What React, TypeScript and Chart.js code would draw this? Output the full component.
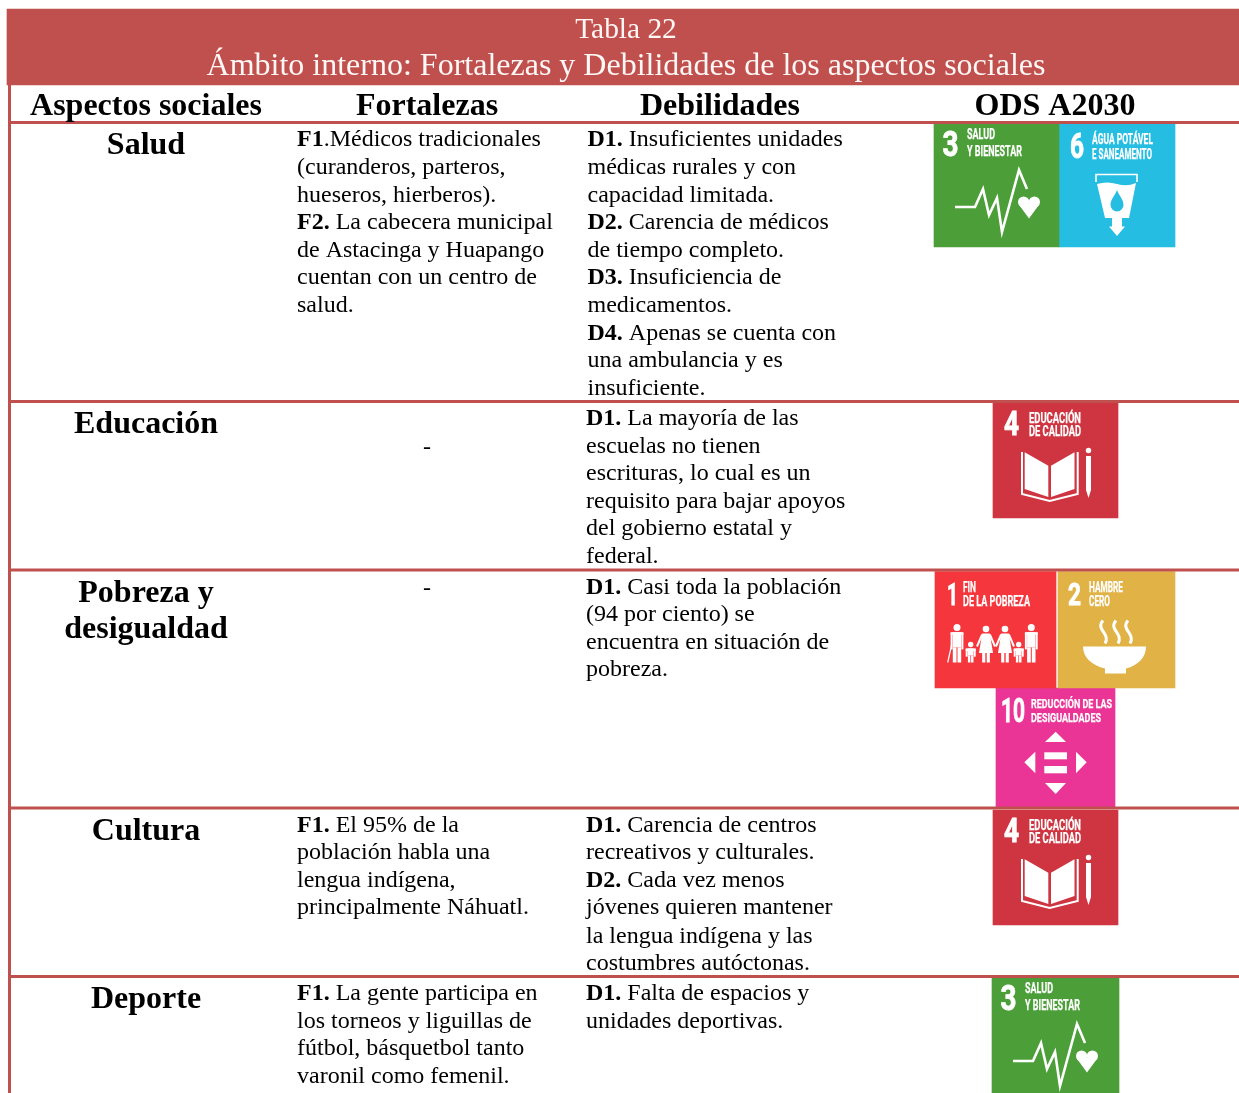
import React, { useEffect, useRef } from "react";
import { Chart, registerables } from "chart.js";

Chart.register(...registerables);

const W = 1239;
const H = 1093;
const SERIF = '"Liberation Serif", "Times New Roman", serif';
const RED = "#C0504D";

// ---------- text content ----------
const titleLines = ["Tabla 22", "Ámbito interno: Fortalezas y Debilidades de los aspectos sociales"];
const headers = ["Aspectos sociales", "Fortalezas", "Debilidades", "ODS A2030"];

const aspectSalud = ["Salud"];
const aspectEducacion = ["Educación"];
const aspectPobreza = ["Pobreza y", "desigualdad"];
const aspectCultura = ["Cultura"];
const aspectDeporte = ["Deporte"];

const fortSalud = [
  "F1.Médicos tradicionales",
  "(curanderos, parteros,",
  "hueseros, hierberos).",
  "F2. La cabecera municipal",
  "de Astacinga y Huapango",
  "cuentan con un centro de",
  "salud.",
];
const debSalud = [
  "D1. Insuficientes unidades",
  "médicas rurales y con",
  "capacidad limitada.",
  "D2. Carencia de médicos",
  "de tiempo completo.",
  "D3. Insuficiencia de",
  "medicamentos.",
  "D4. Apenas se cuenta con",
  "una ambulancia y es",
  "insuficiente.",
];
const debEducacion = [
  "D1. La mayoría de las",
  "escuelas no tienen",
  "escrituras, lo cual es un",
  "requisito para bajar apoyos",
  "del gobierno estatal y",
  "federal.",
];
const debPobreza = [
  "D1. Casi toda la población",
  "(94 por ciento) se",
  "encuentra en situación de",
  "pobreza.",
];
const fortCultura = [
  "F1. El 95% de la",
  "población habla una",
  "lengua indígena,",
  "principalmente Náhuatl.",
];
const debCultura = [
  "D1. Carencia de centros",
  "recreativos y culturales.",
  "D2. Cada vez menos",
  "jóvenes quieren mantener",
  "la lengua indígena y las",
  "costumbres autóctonas.",
];
const fortDeporte = [
  "F1. La gente participa en",
  "los torneos y liguillas de",
  "fútbol, básquetbol tanto",
  "varonil como femenil.",
];
const debDeporte = ["D1. Falta de espacios y", "unidades deportivas."];

// ---------- table layout, in scale units ----------
const ruleYs = [122.5, 401.5, 570, 808, 976.5];
const colCentres = [146, 427, 720, 1055];

const bodyBlocks: { lines: string[]; x: number; baselines: number[] }[] = [
  { lines: fortSalud, x: 297, baselines: [146, 174, 202, 229, 257, 284, 312] },
  { lines: debSalud, x: 587.5, baselines: [146, 174, 202, 229, 257, 284, 312, 340, 367, 395] },
  { lines: debEducacion, x: 586, baselines: [425, 453, 480, 508, 535, 563] },
  { lines: debPobreza, x: 586, baselines: [594, 621, 649, 676] },
  { lines: fortCultura, x: 297, baselines: [832, 859, 887, 914] },
  { lines: debCultura, x: 586, baselines: [832, 859, 887, 914, 943, 970] },
  { lines: fortDeporte, x: 297, baselines: [1000, 1028, 1055, 1083] },
  { lines: debDeporte, x: 586, baselines: [1000, 1028] },
];
const aspectBlocks: { lines: string[]; baselines: number[] }[] = [
  { lines: aspectSalud, baselines: [153.5] },
  { lines: aspectEducacion, baselines: [432.5] },
  { lines: aspectPobreza, baselines: [601.5, 637.5] },
  { lines: aspectCultura, baselines: [839.5] },
  { lines: aspectDeporte, baselines: [1007.5] },
];
const dashBaselines = [454, 595];

// ---------- ODS tiles ----------
type Tile = {
  x0: number; x1: number; y0: number; y1: number; color: string; icon: string;
  num: string; numBox: [number, number, number, number];
  labels: string[]; labelX: number; labelW: number[]; labelBase: number[]; cap: number;
};
const tile3 = { color: "#4C9F38", icon: "health", num: "3", numBox: [8.5, 16, 31.5, 25] as [number, number, number, number], labels: ["SALUD", "Y BIENESTAR"], labelX: 33, labelW: [28, 55], labelBase: [15, 31.5], cap: 10.5 };
const tile4 = { color: "#CF3541", icon: "book", num: "4", numBox: [11, 15, 32, 23] as [number, number, number, number], labels: ["EDUCACIÓN", "DE CALIDAD"], labelX: 36, labelW: [52, 52], labelBase: [20, 33], cap: 10 };
const tiles: Tile[] = [
  { x0: 934, x1: 1059, y0: 124, y1: 247, ...tile3 },
  { x0: 1059, x1: 1175, y0: 124, y1: 247, color: "#26BDE2", icon: "water", num: "6", numBox: [11, 14, 34, 25], labels: ["ÁGUA POTÁVEL", "E SANEAMENTO"], labelX: 33, labelW: [61, 60], labelBase: [20, 35], cap: 10 },
  { x0: 993, x1: 1118, y0: 403, y1: 518, ...tile4 },
  { x0: 935, x1: 1056, y0: 571.5, y1: 688, color: "#F5363C", icon: "family", num: "1", numBox: [12, 11, 33, 22], labels: ["FIN", "DE LA POBREZA"], labelX: 28, labelW: [13, 67], labelBase: [20, 34], cap: 10 },
  { x0: 1058, x1: 1175, y0: 571.5, y1: 688, color: "#E1B245", icon: "bowl", num: "2", numBox: [10, 13, 33, 22], labels: ["HAMBRE", "CERO"], labelX: 31, labelW: [34, 21], labelBase: [20, 34], cap: 10 },
  { x0: 996, x1: 1115, y0: 688, y1: 807, color: "#EA3596", icon: "arrows", num: "10", numBox: [5, 24, 34, 24], labels: ["REDUCCIÓN DE LAS", "DESIGUALDADES"], labelX: 35, labelW: [81, 70], labelBase: [20, 34], cap: 9.5 },
  { x0: 993, x1: 1118, y0: 810, y1: 925, ...tile4 },
  { x0: 992, x1: 1119, y0: 978, y1: 1093, ...tile3 },
];

// ---------- drawing helpers ----------
function poly(ctx: CanvasRenderingContext2D, pts: number[][]) {
  ctx.beginPath();
  pts.forEach(([x, y], i) => (i ? ctx.lineTo(x, y) : ctx.moveTo(x, y)));
  ctx.closePath();
  ctx.fill();
}
function open(ctx: CanvasRenderingContext2D, pts: number[][], lw: number) {
  ctx.lineWidth = lw;
  ctx.beginPath();
  pts.forEach(([x, y], i) => (i ? ctx.lineTo(x, y) : ctx.moveTo(x, y)));
  ctx.stroke();
}
function fitText(ctx: CanvasRenderingContext2D, text: string, x: number, base: number, cap: number, width: number, weight: number) {
  ctx.font = `700 ${cap / 0.711}px Roboto, "Liberation Sans", sans-serif`;
  const w = ctx.measureText(text).width;
  ctx.save();
  ctx.translate(x, base);
  ctx.scale(width / w, 1);
  ctx.fillText(text, 0, 0);
  ctx.lineWidth = weight;
  ctx.strokeText(text, 0, 0);
  ctx.restore();
}
function person(ctx: CanvasRenderingContext2D, cx: number, headY: number, foot: number, r: number, hw: number, dress: boolean, arm: number) {
  ctx.beginPath();
  ctx.arc(cx, headY, r, 0, Math.PI * 2);
  ctx.fill();
  const top = headY + r + 1.2;
  if (dress) {
    const hem = foot - (foot - top) * 0.33;
    poly(ctx, [[cx - hw * 0.55, top], [cx + hw * 0.55, top], [cx + hw, hem], [cx - hw, hem]]);
    ctx.fillRect(cx - hw * 0.55, hem, hw * 0.45, foot - hem);
    ctx.fillRect(cx + hw * 0.1, hem, hw * 0.45, foot - hem);
    open(ctx, [[cx - hw * 0.55, top + 1], [cx - hw - arm, top + 13]], 2);
    open(ctx, [[cx + hw * 0.55, top + 1], [cx + hw + arm, top + 13]], 2);
  } else {
    const leg = (foot - top) * 0.5;
    ctx.fillRect(cx - hw, top, hw * 2, leg);
    ctx.fillRect(cx - hw, top + leg, hw * 0.88, leg);
    ctx.fillRect(cx + hw * 0.12, top + leg, hw * 0.88, leg);
    ctx.fillRect(cx - hw - arm - 1.2, top + 0.5, 2, leg * 1.1);
    ctx.fillRect(cx + hw + arm - 0.8, top + 0.5, 2, leg * 1.1);
    ctx.fillRect(cx - hw - arm - 1.2, top, hw * 2 + arm * 2 + 2.4, 2.5);
  }
}

const icons: Record<string, (c: CanvasRenderingContext2D, bg: string) => void> = {
  health(c) {
    c.lineJoin = "miter";
    open(c, [[21, 83], [41, 83], [49, 65], [55, 91], [63, 74], [68, 108], [85, 46], [93, 65]], 2.6);
    c.beginPath();
    c.arc(89.6, 78, 5.6, 0, Math.PI * 2);
    c.arc(100.4, 78, 5.6, 0, Math.PI * 2);
    c.fill();
    poly(c, [[84.4, 80], [105.6, 80], [95, 94.5]]);
  },
  water(c, bg) {
    open(c, [[37, 58], [37, 50.5], [78, 50.5], [78, 58]], 1.6);
    c.beginPath();
    c.moveTo(38, 60);
    c.quadraticCurveTo(48, 57, 58, 60);
    c.quadraticCurveTo(68, 63, 77, 59);
    c.lineTo(70, 94);
    c.lineTo(46, 94);
    c.closePath();
    c.fill();
    c.fillRect(53, 94, 10, 9);
    poly(c, [[50, 102.5], [66, 102.5], [58, 112]]);
    c.fillStyle = bg;
    c.beginPath();
    c.moveTo(58, 66);
    c.bezierCurveTo(60, 72, 64.5, 75, 64.5, 81);
    c.arc(58, 81, 6.5, 0, Math.PI);
    c.bezierCurveTo(51.5, 75, 56, 72, 58, 66);
    c.fill();
  },
  book(c) {
    poly(c, [[31.7, 49.3], [55.3, 62.7], [55.3, 94], [31.7, 86]]);
    poly(c, [[58, 62.7], [81.5, 49.3], [81.5, 86], [58, 94]]);
    open(c, [[29, 49], [29, 91], [56.7, 98], [84.7, 91], [84.7, 49]], 2);
    c.beginPath();
    c.arc(95.5, 47.5, 2.7, 0, Math.PI * 2);
    c.fill();
    poly(c, [[93, 53], [98, 53], [98, 87], [95.5, 95], [93, 87]]);
  },
  family(c) {
    person(c, 22, 56, 91, 3.5, 4.2, false, 1);
    open(c, [[12.7, 91], [16.5, 74]], 1.2);
    person(c, 35.7, 73, 91, 2.7, 2.8, false, 1);
    person(c, 51, 57.5, 91, 3.3, 7, true, 2);
    person(c, 70, 57.5, 91, 3.3, 7, true, 2);
    person(c, 83.7, 73, 91, 2.7, 2.8, false, 1);
    person(c, 96.3, 56, 91, 3.5, 4.2, false, 1);
  },
  bowl(c) {
    c.beginPath();
    c.moveTo(25, 75);
    c.lineTo(88, 75);
    c.bezierCurveTo(88, 86, 80, 94, 68, 97);
    c.lineTo(68, 102);
    c.lineTo(47, 102);
    c.lineTo(47, 97);
    c.bezierCurveTo(34, 94, 25, 86, 25, 75);
    c.fill();
    for (const x of [44, 57, 69]) {
      c.lineWidth = 3;
      c.beginPath();
      c.moveTo(x + 1, 49);
      c.bezierCurveTo(x - 7, 58, x + 9, 62, x + 3, 72);
      c.stroke();
    }
  },
  arrows(c) {
    poly(c, [[49, 54], [70, 54], [59.7, 43.7]]);
    poly(c, [[49, 95], [70, 95], [59.7, 106]]);
    poly(c, [[39.3, 63.7], [39.3, 85.3], [28.3, 74.3]]);
    poly(c, [[80, 63.7], [80, 85.3], [90.7, 74.3]]);
    c.fillRect(48.3, 64.3, 22.7, 7);
    c.fillRect(48.3, 78, 22.7, 7.3);
  },
};

function drawRich(ctx: CanvasRenderingContext2D, line: string, x: number, y: number) {
  const m = line.match(/^(F1(?=\.M)|[FD]\d\.)/);
  let px = x;
  if (m) {
    ctx.font = `700 24px ${SERIF}`;
    ctx.fillText(m[0], px, y);
    px += ctx.measureText(m[0]).width;
  }
  ctx.font = `400 24px ${SERIF}`;
  ctx.fillText(m ? line.slice(m[0].length) : line, px, y);
}

const tablePlugin = {
  id: "tablePlugin",
  afterDatasetsDraw(chart: any) {
    const { ctx, scales } = chart;
    const X = (v: number) => scales.x.getPixelForValue(v);
    const Y = (v: number) => scales.y.getPixelForValue(v);
    ctx.save();
    ctx.textBaseline = "alphabetic";

    // title band
    ctx.fillStyle = "#FFF8F6";
    ctx.textAlign = "center";
    ctx.font = `400 29.4px ${SERIF}`;
    ctx.fillText(titleLines[0], X(626), Y(38));
    ctx.font = `400 32px ${SERIF}`;
    ctx.fillText(titleLines[1], X(626), Y(75));

    // column headers and row labels
    ctx.fillStyle = "#000";
    ctx.font = `700 32px ${SERIF}`;
    headers.forEach((h, i) => ctx.fillText(h, X(colCentres[i]), Y(114.5)));
    aspectBlocks.forEach((b) => b.lines.forEach((l, i) => ctx.fillText(l, X(colCentres[0]), Y(b.baselines[i]))));

    // body text
    ctx.font = `400 24px ${SERIF}`;
    dashBaselines.forEach((b) => ctx.fillText("-", X(colCentres[1]), Y(b)));
    ctx.textAlign = "left";
    bodyBlocks.forEach((b) => b.lines.forEach((l, i) => drawRich(ctx, l, X(b.x), Y(b.baselines[i]))));

    // tile captions and pictograms
    tiles.forEach((t) => {
      ctx.save();
      ctx.beginPath();
      ctx.rect(X(t.x0), Y(t.y0), X(t.x1) - X(t.x0), Y(t.y1) - Y(t.y0));
      ctx.clip();
      ctx.translate(X(t.x0), Y(t.y0));
      ctx.fillStyle = "#fff";
      ctx.strokeStyle = "#fff";
      fitText(ctx, t.num, t.numBox[0], t.numBox[2], t.numBox[3], t.numBox[1], 0.9);
      t.labels.forEach((l, i) => fitText(ctx, l, t.labelX, t.labelBase[i], t.cap, t.labelW[i], 0.25));
      icons[t.icon](ctx, t.color);
      ctx.restore();
    });
    ctx.restore();
  },
};

export default function App() {
  const ref = useRef<HTMLCanvasElement>(null);
  useEffect(() => {
    if (!ref.current) return;
    const bar = (x0: number, x1: number, y0: number, y1: number, color: string) => ({
      type: "bar" as const,
      data: [{ x: (x0 + x1) / 2, y: [y0, y1] }],
      backgroundColor: color,
      barThickness: x1 - x0,
      grouped: false,
      borderWidth: 0,
      order: 2,
    });
    const rule = (pts: { x: number; y: number }[], width: number) => ({
      type: "line" as const,
      data: pts,
      borderColor: RED,
      borderWidth: width,
      pointRadius: 0,
      fill: false,
      order: 1,
    });
    const chart = new Chart(ref.current, {
      data: {
        datasets: [
          bar(7, 1239, 9, 85, RED),
          ...tiles.map((t) => bar(t.x0, t.x1, t.y0, t.y1, t.color)),
          rule([{ x: 9.5, y: 85 }, { x: 9.5, y: 1093 }], 3),
          ...ruleYs.map((y) => rule([{ x: 9, y }, { x: 1239, y }], 3)),
        ] as any,
      },
      options: {
        animation: false,
        responsive: false,
        layout: { padding: 0 },
        plugins: { legend: { display: false }, tooltip: { enabled: false }, title: { display: false } },
        scales: {
          x: { type: "linear", min: 0, max: W, display: false, offset: false },
          y: { type: "linear", min: 0, max: H, reverse: true, display: false },
        },
      } as any,
      plugins: [tablePlugin],
    });
    return () => chart.destroy();
  }, []);
  return (
    <div style={{ position: "absolute", left: 0, top: 0, width: W, height: H, background: "#fff", overflow: "hidden" }}>
      <canvas ref={ref} width={W} height={H} style={{ display: "block" }} />
    </div>
  );
}
